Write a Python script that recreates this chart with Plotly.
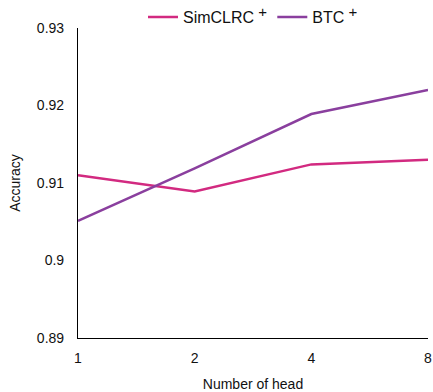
import plotly.graph_objects as go

heads = ["1", "2", "4", "8"]
simclrc = [0.9110, 0.9089, 0.9124, 0.9130]
btc = [0.9051, 0.9119, 0.9189, 0.9220]
y_ticks = [0.89, 0.9, 0.91, 0.92, 0.93]
y_tick_labels = ["0.89", "0.9", "0.91", "0.92", "0.93"]
names = ["SimCLRC", "BTC"]

sup = "<sup><span style='font-size:15px'> +</span></sup>"

fig = go.Figure()
fig.add_trace(go.Scatter(x=heads, y=simclrc, mode="lines", name=names[0] + sup,
                         line=dict(color="#D22A80", width=2.5)))
fig.add_trace(go.Scatter(x=heads, y=btc, mode="lines", name=names[1] + sup,
                         line=dict(color="#8A3F9E", width=2.5)))

fig.update_layout(
    width=433, height=392,
    margin=dict(l=78, r=5, t=28, b=54, autoexpand=False),
    paper_bgcolor="white", plot_bgcolor="white",
    font=dict(family="Liberation Sans, Arial, sans-serif", size=14, color="#111"),
    legend=dict(orientation="h", x=0.5, xanchor="center", y=1.035, yanchor="middle",
                font=dict(size=16), itemwidth=30, bgcolor="rgba(0,0,0,0)"),
    xaxis=dict(type="category", range=[0, 3], showgrid=False, showline=True,
               linecolor="black", linewidth=1.2, ticks="", zeroline=False,
               ticklabelstandoff=7,
               title=dict(text="Number of head", font=dict(size=14), standoff=14),
               tickfont=dict(size=14)),
    yaxis=dict(range=[0.89, 0.93], tickvals=y_ticks, ticktext=y_tick_labels,
               showgrid=False, showline=True, linecolor="black", linewidth=1.2,
               ticks="", zeroline=False, ticklabelstandoff=10,
               title=dict(text="Accuracy", font=dict(size=14), standoff=12),
               tickfont=dict(size=14)),
)
fig.write_html(
    "out.html",
    config={"displayModeBar": False},
    post_script="document.body.style.margin='0';document.body.style.overflow='hidden';",
)
